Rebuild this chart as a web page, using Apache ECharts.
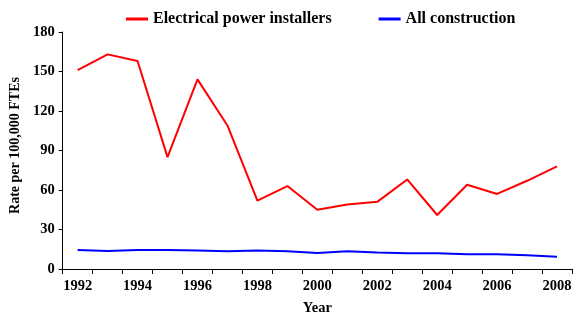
<!DOCTYPE html>
<html><head><meta charset="utf-8">
<script src="https://cdn.jsdelivr.net/npm/echarts@6/dist/echarts.min.js"></script>
<style>html,body{margin:0;padding:0;background:#fff}#c{width:580px;height:322px}</style>
</head><body><div id="c"></div>
<script>
var years = ['1992','1993','1994','1995','1996','1997','1998','1999','2000','2001','2002','2003','2004','2005','2006','2007','2008'];
var electrical = [151, 163, 158, 85, 144, 109, 52, 63, 45, 49, 51, 68, 41, 64, 57, 67, 78];
var allConstruction = [14.4, 13.7, 14.5, 14.5, 14, 13.5, 14, 13.5, 12.1, 13.4, 12.5, 12, 12, 11.2, 11.2, 10.5, 9.3];
var yTicks = {min: 0, max: 180, interval: 30};
var font = '"Liberation Serif", "DejaVu Serif", serif';
var chart = echarts.init(document.getElementById('c'), null, {renderer: 'canvas'});
chart.setOption({
  animation: false,
  legend: {
    top: 6, left: 121, itemGap: 47, itemWidth: 22, itemHeight: 3,
    icon: 'rect',
    textStyle: {fontFamily: font, fontWeight: 'bold', fontSize: 16, color: '#000'},
    data: ['Electrical power installers', 'All construction']
  },
  grid: {left: 61, right: 8, top: 32, bottom: 53},
  xAxis: {
    type: 'category', data: years, boundaryGap: true,
    name: 'Year', nameLocation: 'middle', nameGap: 32,
    nameTextStyle: {fontFamily: font, fontWeight: 'bold', fontSize: 14.5, color: '#000'},
    axisLine: {lineStyle: {color: '#000', width: 1}},
    axisTick: {show: true, length: 5, interval: 0, lineStyle: {color: '#000'}},
    axisLabel: {interval: 1, fontFamily: font, fontWeight: 'bold', fontSize: 14.5, color: '#000', margin: 10},
    splitLine: {show: false}
  },
  yAxis: {
    type: 'value', min: yTicks.min, max: yTicks.max, interval: yTicks.interval,
    name: 'Rate per 100,000 FTEs', nameLocation: 'middle', nameGap: 40, nameRotate: 90,
    nameTextStyle: {fontFamily: font, fontWeight: 'bold', fontSize: 14, color: '#000', padding: [0, 0, 0, 10]},
    axisLine: {show: true, lineStyle: {color: '#000', width: 1}},
    axisTick: {show: true, length: 4, lineStyle: {color: '#000'}},
    axisLabel: {fontFamily: font, fontWeight: 'bold', fontSize: 14.5, color: '#000', margin: 8},
    splitLine: {show: false}
  },
  series: [
    {name: 'Electrical power installers', type: 'line', data: electrical, symbol: 'none',
     itemStyle: {color: '#ff0000'}, lineStyle: {color: '#ff0000', width: 2}},
    {name: 'All construction', type: 'line', data: allConstruction, symbol: 'none',
     itemStyle: {color: '#0000ff'}, lineStyle: {color: '#0000ff', width: 2}}
  ]
});
</script></body></html>
